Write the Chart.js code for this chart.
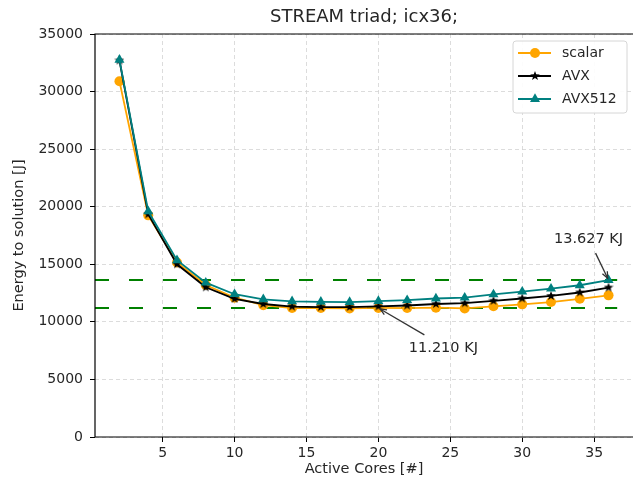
<!DOCTYPE html>
<html><head><meta charset="utf-8">
<script src="https://cdn.jsdelivr.net/npm/chart.js@4"></script>
<style>html,body{margin:0;padding:0;background:#fff}#wrap{width:633px;height:483px}</style>
</head><body><div id="wrap"><canvas id="c" width="633" height="483"></canvas></div>
<script>
// ---- data ----
const cores   = [2, 4, 6, 8, 10, 12, 14, 16, 18, 20, 22, 24, 26, 28, 30, 32, 34, 36];
const scalar  = [30900, 19250, 15150, 13200, 12100, 11450, 11200, 11200, 11170, 11210, 11200, 11230, 11170, 11350, 11520, 11720, 12000, 12300];
const avx     = [32700, 19350, 15000, 13000, 12000, 11550, 11330, 11280, 11280, 11340, 11420, 11550, 11620, 11830, 12030, 12250, 12550, 12980];
const avx512  = [32750, 19600, 15350, 13400, 12400, 11950, 11780, 11740, 11720, 11800, 11880, 12030, 12100, 12380, 12620, 12880, 13180, 13627];
const seriesNames = ['scalar', 'AVX', 'AVX512'];
const refLevels = [13627, 11210];
const refLabels = ['13.627 KJ', '11.210 KJ'];
const refTargetsX = [36, 20];
const xTicks = [5, 10, 15, 20, 25, 30, 35];
const yTicks = [0, 5000, 10000, 15000, 20000, 25000, 30000, 35000];
const titleText = 'STREAM triad; icx36;';

// ---- styling ----
const FONT = 'DejaVu Sans';
const TXT = '#262626';
const GRID = '#d3d3d3';

function starCanvas(size, color) {
  const c = document.createElement('canvas');
  c.width = size; c.height = size;
  const g = c.getContext('2d');
  const cx = size / 2, cy = size / 2, R = size / 2, r = R * 0.42;
  g.beginPath();
  for (let i = 0; i < 10; i++) {
    const a = -Math.PI / 2 + i * Math.PI / 5;
    const rr = i % 2 === 0 ? R : r;
    g.lineTo(cx + rr * Math.cos(a), cy + rr * Math.sin(a));
  }
  g.closePath(); g.fillStyle = color; g.fill();
  return c;
}
const star = starCanvas(10, '#000');

const styles = [
  {color: '#FFA500', pointStyle: 'circle', radius: 5},
  {color: '#000000', pointStyle: star, radius: 5},
  {color: '#008080', pointStyle: 'triangle', radius: 5.8}
];
const seriesValues = [scalar, avx, avx512];

const datasets = seriesValues.map((vals, i) => ({
  label: seriesNames[i],
  data: cores.map((x, j) => ({x, y: vals[j]})),
  borderColor: styles[i].color,
  backgroundColor: styles[i].color,
  pointStyle: styles[i].pointStyle,
  pointRadius: styles[i].radius,
  pointBorderWidth: 0,
  borderWidth: 1.8,
  order: 10 - i,
  tension: 0
}));
refLevels.forEach((v, k) => {
  datasets.push({
    label: 'ref' + k,
    data: [{x: 0.3, y: v}, {x: 36.6, y: v}],
    borderColor: '#008000',
    borderWidth: 2,
    borderDash: [14, 20],
    pointRadius: 0,
    order: 20,
    tension: 0
  });
});

// annotation placement (pixel offsets from target)
const annotLayout = [
  {text: [-20, -41], from: [-13, -27]},
  {text: [65, 40], from: [46, 27]}
];

const decor = {
  id: 'decor',
  afterDatasetsDraw(chart) {
    const {ctx, chartArea: a} = chart;
    ctx.save();
    ctx.strokeStyle = '#000'; ctx.lineWidth = 1.2;
    ctx.beginPath();
    ctx.moveTo(a.right + 2, a.top); ctx.lineTo(a.left, a.top);
    ctx.lineTo(a.left, a.bottom); ctx.lineTo(a.right + 2, a.bottom);
    ctx.stroke();
    ctx.restore();
  },
  afterDraw(chart) {
    const {ctx, chartArea: a} = chart;
    const xs = chart.scales.x, ys = chart.scales.y;
    ctx.save();
    // title centred over the plot area
    ctx.font = '18px "' + FONT + '"';
    ctx.fillStyle = TXT; ctx.textAlign = 'center'; ctx.textBaseline = 'middle';
    ctx.fillText(titleText, (a.left + a.right) / 2, 17);
    // annotations
    ctx.font = '14.5px "' + FONT + '"';
    refLevels.forEach((v, k) => {
      const tx = xs.getPixelForValue(refTargetsX[k]);
      const ty = ys.getPixelForValue(v);
      const L = annotLayout[k];
      ctx.fillStyle = TXT;
      ctx.fillText(refLabels[k], tx + L.text[0], ty + L.text[1]);
      const fx = tx + L.from[0], fy = ty + L.from[1];
      const ang = Math.atan2(ty - fy, tx - fx);
      const ex = tx - Math.cos(ang) * 2, ey = ty - Math.sin(ang) * 2;
      ctx.strokeStyle = '#333'; ctx.lineWidth = 1.3;
      ctx.beginPath(); ctx.moveTo(fx, fy); ctx.lineTo(ex, ey); ctx.stroke();
      const h = 7, w = 0.4;
      ctx.beginPath();
      ctx.moveTo(ex - h * Math.cos(ang - w), ey - h * Math.sin(ang - w));
      ctx.lineTo(ex, ey);
      ctx.lineTo(ex - h * Math.cos(ang + w), ey - h * Math.sin(ang + w));
      ctx.stroke();
    });
    // legend
    const bx = 513, by = 41, bw = 114, bh = 72;
    ctx.beginPath();
    ctx.roundRect(bx, by, bw, bh, 3);
    ctx.fillStyle = 'rgba(255,255,255,0.9)'; ctx.fill();
    ctx.strokeStyle = '#d6d6d6'; ctx.lineWidth = 1; ctx.stroke();
    const rows = [53, 76, 99];
    seriesNames.forEach((name, i) => {
      const y = rows[i];
      ctx.strokeStyle = styles[i].color; ctx.lineWidth = 1.8;
      ctx.beginPath(); ctx.moveTo(518, y); ctx.lineTo(551, y); ctx.stroke();
      ctx.fillStyle = styles[i].color;
      const ps = styles[i].pointStyle, r = styles[i].radius;
      if (ps === 'circle') { ctx.beginPath(); ctx.arc(535, y, r, 0, Math.PI * 2); ctx.fill(); }
      else if (ps === 'triangle') {
        ctx.beginPath();
        ctx.moveTo(535, y - r);
        ctx.lineTo(535 + r * 0.866, y + r * 0.5);
        ctx.lineTo(535 - r * 0.866, y + r * 0.5);
        ctx.closePath(); ctx.fill();
      } else { ctx.drawImage(ps, 535 - ps.width / 2, y - ps.height / 2); }
      ctx.fillStyle = TXT; ctx.textAlign = 'left'; ctx.textBaseline = 'middle';
      ctx.font = '14px "' + FONT + '"';
      ctx.fillText(name, 562, y);
    });
    ctx.restore();
  }
};

const gridOpts = {color: GRID, lineWidth: 0.8, tickColor: '#000', tickLength: 5, tickBorderDash: [], tickWidth: 1};
const borderOpts = {display: false, dash: [4, 3]};

new Chart(document.getElementById('c'), {
  type: 'line',
  data: {datasets},
  plugins: [decor],
  options: {
    responsive: false,
    animation: false,
    layout: {autoPadding: false, padding: {left: 0, right: 0, top: 34, bottom: 0}},
    plugins: {
      legend: {display: false},
      tooltip: {enabled: false},
      title: {display: false}
    },
    scales: {
      x: {
        type: 'linear',
        min: 0.3, max: 37.7,
        afterBuildTicks: s => { s.ticks = xTicks.map(v => ({value: v})); },
        afterFit: s => { s.height = 46; s.paddingLeft = 0; s.paddingRight = 0; },
        ticks: {color: TXT, font: {family: FONT, size: 14}, padding: 3, maxRotation: 0, autoSkip: false},
        grid: gridOpts,
        border: borderOpts,
        title: {display: true, text: 'Active Cores [#]', color: TXT, font: {family: FONT, size: 14.5}, padding: {top: 0, bottom: 5}}
      },
      y: {
        type: 'linear',
        min: 0, max: 35000,
        afterBuildTicks: s => { s.ticks = yTicks.map(v => ({value: v})); },
        afterFit: s => { s.width = 95; },
        ticks: {color: TXT, font: {family: FONT, size: 14}, padding: 7, callback: v => String(v)},
        grid: gridOpts,
        border: borderOpts,
        title: {display: true, text: 'Energy to solution [J]', color: TXT, font: {family: FONT, size: 14.5}, padding: {top: 11, bottom: 0}}
      }
    }
  }
});
</script>
</body></html>
